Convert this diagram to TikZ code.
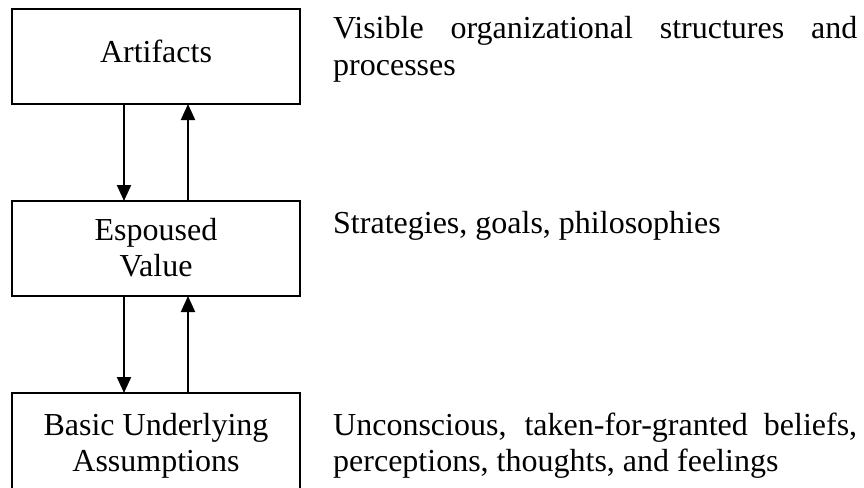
\documentclass[tikz,border=0pt]{standalone}
\usepackage{fontspec}
\setmainfont{Liberation Serif}
\usetikzlibrary{arrows.meta}
\begin{document}
\begin{tikzpicture}[x=1pt,y=-1pt,
  layerbox/.style={draw=black,line width=2.5pt,rectangle,minimum width=288pt,inner sep=0pt,outer sep=0pt},
  boxtext/.style={inner sep=0pt,anchor=base,align=center,font=\fontsize{32}{36}\selectfont},
  desc/.style={inner sep=0pt,anchor=base west,text width=524pt,align=justify,font=\fontsize{32}{36}\selectfont},
  flow/.style={line width=2pt,-{Triangle[length=16pt,width=14pt]}}]
\useasboundingbox (0,0) rectangle (864,487);
\clip (0,0) rectangle (864,487);
% boxes
\node[layerbox,minimum height=95pt] (b1) at (156,56.5) {};
\node[layerbox,minimum height=95pt] (b2) at (156,248.5) {};
\node[layerbox,minimum height=102pt] (b3) at (156,444) {};
% box texts
\node[boxtext] (t1) at (156,63) {Artifacts};
\node[boxtext] (t2) at (156,276) {Espoused\\Value};
\node[boxtext] (t3) at (156,471) {Basic Underlying\\Assumptions};
% descriptions
\node[desc] (d1) at (333,39) {Visible organizational structures and\linebreak processes};
\node[desc] (d2) at (333,233) {Strategies, goals, philosophies};
\node[desc] (d3) at (333,435) {Unconscious, taken-for-granted beliefs,\linebreak perceptions, thoughts, and feelings};
% arrows
\draw[flow] ([xshift=-32pt]b1.south) -- ([xshift=-32pt]b2.north);
\draw[flow] ([xshift=32pt]b2.north) -- ([xshift=32pt]b1.south);
\draw[flow] ([xshift=-32pt]b2.south) -- ([xshift=-32pt]b3.north);
\draw[flow] ([xshift=32pt]b3.north) -- ([xshift=32pt]b2.south);
\end{tikzpicture}
\end{document}
